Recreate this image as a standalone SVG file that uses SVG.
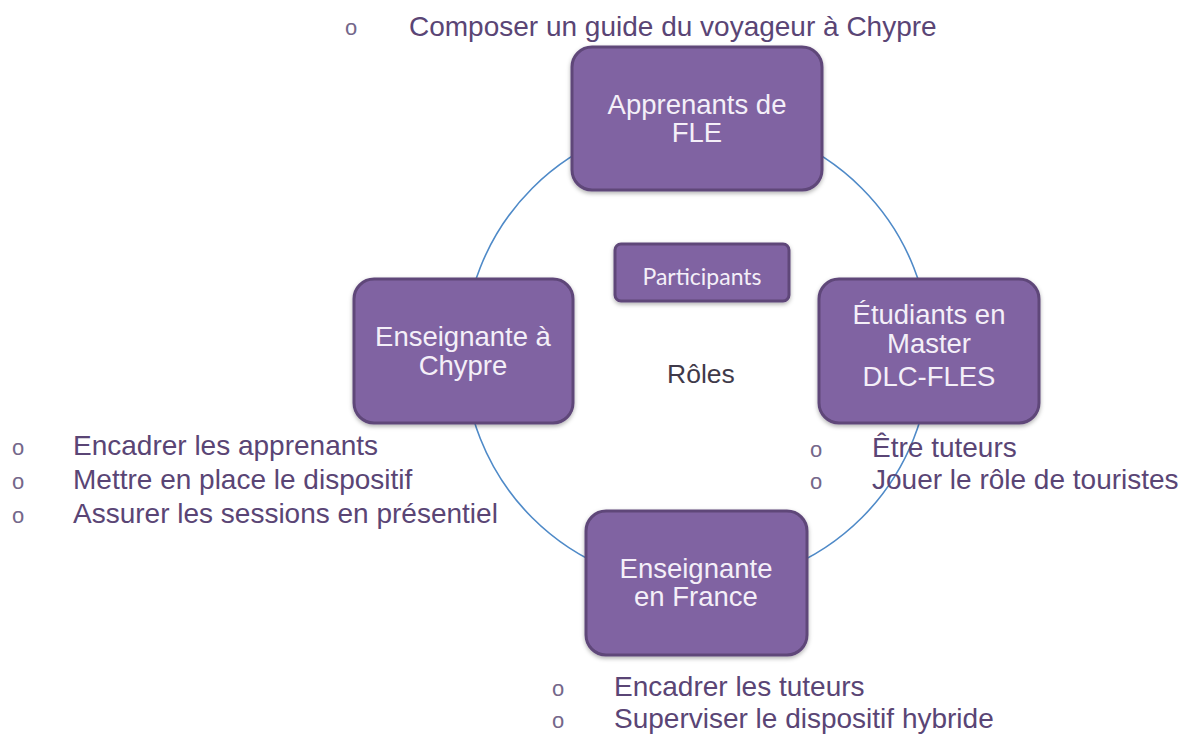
<svg xmlns="http://www.w3.org/2000/svg" width="1182" height="734" viewBox="0 0 1182 734">
<style>
.node rect{fill:#8064a2;stroke:#5e4679;stroke-width:3;}
.nt{font-family:"Liberation Sans",Arial,sans-serif;font-size:27.5px;fill:#f4eff8;text-anchor:middle;}
.lt{font-family:"Liberation Sans",Arial,sans-serif;font-size:28px;fill:#5a4575;}
.bu{font-family:"Liberation Sans",Arial,sans-serif;font-size:22px;fill:#74678a;text-anchor:middle;}
</style>
<defs>
<filter id="sh" x="-10%" y="-10%" width="120%" height="130%">
<feDropShadow dx="0" dy="2" stdDeviation="2" flood-color="#000" flood-opacity="0.3"/>
</filter>
</defs>
<rect width="1182" height="734" fill="#ffffff"/>
<g id="connectors">
<circle cx="697" cy="353" r="233" fill="none" stroke="#4f8ac8" stroke-width="1.6"/>
</g>
<g id="node-apprenants" class="node">
<rect x="572" y="47" width="250" height="143" rx="20" filter="url(#sh)"/>
<text class="nt" x="697" y="114">Apprenants de</text>
<text class="nt" x="697" y="142">FLE</text>
</g>
<g id="node-enseignante-chypre" class="node">
<rect x="354" y="279" width="219" height="144" rx="20" filter="url(#sh)"/>
<text class="nt" x="463" y="346">Enseignante à</text>
<text class="nt" x="463" y="375">Chypre</text>
</g>
<g id="node-etudiants" class="node">
<rect x="819" y="279" width="220" height="144" rx="20" filter="url(#sh)"/>
<text class="nt" x="929" y="324">Étudiants en</text>
<text class="nt" x="929" y="353">Master</text>
<text class="nt" x="929" y="386">DLC-FLES</text>
</g>
<g id="node-enseignante-france" class="node">
<rect x="586" y="511" width="221" height="144" rx="20" filter="url(#sh)"/>
<text class="nt" x="696" y="578">Enseignante</text>
<text class="nt" x="696" y="606">en France</text>
</g>
<g id="node-participants" class="node">
<rect x="615" y="244" width="174" height="57" rx="6" filter="url(#sh)"/>
<text x="702" y="285" font-family="Lato,'Open Sans',sans-serif" font-size="23" fill="#f4eff8" text-anchor="middle">Participants</text>
</g>
<g id="label-roles">
<text x="701" y="383" font-family="'Liberation Sans',Arial,sans-serif" font-size="26.5" fill="#3f3a4a" text-anchor="middle">Rôles</text>
</g>
<g id="list-top">
<text class="bu" x="351" y="35">o</text>
<text class="lt" x="409" y="36">Composer un guide du voyageur à Chypre</text>
</g>
<g id="list-left">
<text class="bu" x="18" y="455">o</text>
<text class="lt" x="73" y="455">Encadrer les apprenants</text>
<text class="bu" x="18" y="489">o</text>
<text class="lt" x="73" y="489">Mettre en place le dispositif</text>
<text class="bu" x="18" y="523">o</text>
<text class="lt" x="73" y="523">Assurer les sessions en présentiel</text>
</g>
<g id="list-right">
<text class="bu" x="816" y="457">o</text>
<text class="lt" x="872" y="457">Être tuteurs</text>
<text class="bu" x="816" y="489">o</text>
<text class="lt" x="872" y="489">Jouer le rôle de touristes</text>
</g>
<g id="list-bottom">
<text class="bu" x="558" y="696">o</text>
<text class="lt" x="614" y="696">Encadrer les tuteurs</text>
<text class="bu" x="558" y="728">o</text>
<text class="lt" x="614" y="728">Superviser le dispositif hybride</text>
</g>
</svg>
